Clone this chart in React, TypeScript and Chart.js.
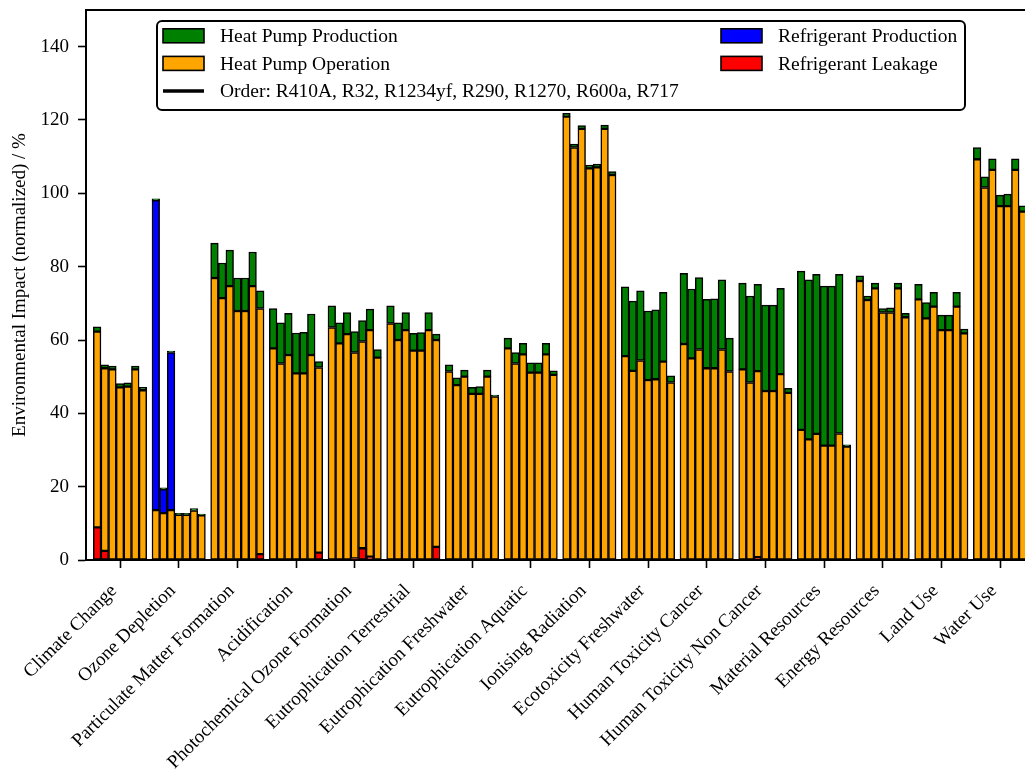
import React, { useEffect, useRef } from "react";
import { Chart, registerables } from "chart.js";

Chart.register(...registerables);

const categories = [
  "Climate Change",
  "Ozone Depletion",
  "Particulate Matter Formation",
  "Acidification",
  "Photochemical Ozone Formation",
  "Eutrophication Terrestrial",
  "Eutrophication Freshwater",
  "Eutrophication Aquatic",
  "Ionising Radiation",
  "Ecotoxicity Freshwater",
  "Human Toxicity Cancer",
  "Human Toxicity Non Cancer",
  "Material Resources",
  "Energy Resources",
  "Land Use",
  "Water Use",
];

const refrigerants = ["R410A", "R32", "R1234yf", "R290", "R1270", "R600a", "R717"];

const yTicks = [0, 20, 40, 60, 80, 100, 120, 140];

// one row per category, one value per refrigerant (order as above)
const refrigerantLeakage = [
  [8.9, 2.5, 0, 0, 0, 0, 0],
  [0, 0, 0, 0, 0, 0, 0],
  [0, 0, 0, 0, 0, 0, 1.6],
  [0, 0, 0, 0, 0, 0, 2.0],
  [0, 0, 0, 0.4, 3.2, 0.9, 0],
  [0, 0, 0, 0, 0, 0, 3.6],
  [0, 0, 0, 0, 0, 0, 0],
  [0, 0, 0, 0, 0, 0, 0],
  [0, 0, 0, 0, 0, 0, 0],
  [0, 0, 0, 0, 0, 0, 0],
  [0, 0, 0, 0, 0, 0, 0],
  [0, 0, 0.8, 0, 0, 0, 0],
  [0, 0, 0, 0, 0, 0, 0],
  [0, 0, 0, 0, 0, 0, 0],
  [0, 0, 0, 0, 0, 0, 0],
  [0, 0, 0, 0, 0, 0, 0],
];

const heatPumpOperation = [
  [53.4, 49.8, 52.0, 47.1, 47.3, 52.0, 46.3],
  [13.6, 12.8, 13.6, 12.3, 12.3, 13.5, 12.2],
  [76.9, 71.4, 74.7, 67.9, 67.9, 74.7, 67.0],
  [57.7, 53.6, 55.9, 50.9, 50.9, 55.9, 50.5],
  [63.4, 59.1, 61.6, 56.2, 56.4, 61.8, 55.2],
  [64.5, 60.0, 62.7, 57.1, 57.1, 62.7, 56.4],
  [51.4, 47.7, 50.0, 45.3, 45.3, 50.0, 44.6],
  [57.7, 53.6, 56.1, 51.1, 51.1, 56.1, 50.5],
  [120.9, 112.5, 117.6, 106.8, 107.1, 117.6, 105.0],
  [55.6, 51.6, 54.4, 49.1, 49.3, 54.1, 48.4],
  [58.9, 55.0, 57.4, 52.3, 52.3, 57.4, 51.4],
  [52.0, 48.4, 50.7, 46.1, 46.1, 50.7, 45.6],
  [35.5, 32.9, 34.4, 31.2, 31.2, 34.5, 30.9],
  [76.1, 70.9, 74.1, 67.5, 67.5, 74.1, 66.2],
  [71.1, 65.9, 69.1, 62.7, 62.7, 69.1, 61.8],
  [109.3, 101.6, 106.4, 96.5, 96.5, 106.4, 95.0],
];

const refrigerantProduction = [
  [0, 0, 0, 0, 0, 0, 0],
  [84.5, 6.5, 43.0, 0, 0, 0, 0],
  [0, 0, 0, 0, 0, 0, 0],
  [0, 0, 0, 0, 0, 0, 0],
  [0, 0, 0, 0, 0, 0, 0],
  [0, 0, 0, 0, 0, 0, 0],
  [0, 0, 0, 0, 0, 0, 0],
  [0, 0, 0, 0, 0, 0, 0],
  [0, 0, 0, 0, 0, 0, 0],
  [0, 0, 0, 0, 0, 0, 0],
  [0, 0, 0, 0, 0, 0, 0],
  [0, 0, 0, 0, 0, 0, 0],
  [0, 0, 0, 0, 0, 0, 0],
  [0, 0, 0, 0, 0, 0, 0],
  [0, 0, 0, 0, 0, 0, 0],
  [0, 0, 0, 0, 0, 0, 0],
];

const heatPumpProduction = [
  [1.3, 0.9, 0.9, 1.0, 1.0, 0.9, 0.8],
  [0.4, 0.4, 0.4, 0.4, 0.4, 0.5, 0.3],
  [9.5, 9.6, 9.8, 9.0, 9.0, 9.3, 4.8],
  [10.9, 11.1, 11.4, 11.0, 11.2, 11.2, 1.6],
  [5.9, 5.6, 5.9, 5.7, 5.7, 5.7, 2.2],
  [4.8, 4.7, 4.8, 4.7, 4.9, 4.8, 1.6],
  [1.8, 2.0, 1.8, 1.8, 2.0, 1.8, 0.4],
  [2.8, 3.0, 3.0, 2.7, 2.7, 3.0, 1.1],
  [0.9, 0.9, 0.9, 0.9, 0.9, 1.0, 0.9],
  [18.9, 19.0, 19.0, 18.8, 18.9, 18.9, 1.8],
  [19.3, 18.9, 19.6, 18.8, 18.9, 19.0, 9.1],
  [23.5, 23.6, 23.7, 23.4, 23.4, 23.4, 1.2],
  [43.3, 43.5, 43.5, 43.5, 43.5, 43.4, 0.5],
  [1.4, 1.1, 1.4, 1.1, 1.3, 1.4, 1.1],
  [4.1, 4.3, 3.9, 4.1, 4.1, 3.9, 1.2],
  [3.2, 2.9, 3.0, 3.0, 3.3, 3.0, 1.6],
];

const FONT = "'Liberation Serif', 'Times New Roman', serif";
const BAR_W = 0.13;
const X_MIN = -0.58;
const X_MAX = 15.426;

const positions: number[] = [];
categories.forEach((_, i) => {
  refrigerants.forEach((_, j) => {
    positions.push(i + (j - 3) * BAR_W);
  });
});

function series(values: number[][]) {
  return positions.map((x, k) => ({
    x,
    y: values[Math.floor(k / refrigerants.length)][k % refrigerants.length],
  }));
}

const overlayPlugin = {
  id: "overlay",
  afterDraw(chart: any) {
    const ctx: CanvasRenderingContext2D = chart.ctx;
    const area = chart.chartArea;
    ctx.save();
    // top spine
    ctx.strokeStyle = "#000";
    ctx.lineWidth = 2;
    ctx.beginPath();
    ctx.moveTo(area.left - 1, area.top);
    ctx.lineTo(area.right, area.top);
    ctx.stroke();

    // legend frame
    const bx = 157,
      by = 21,
      bw = 808,
      bh = 89;
    ctx.fillStyle = "#fff";
    ctx.lineWidth = 2;
    ctx.beginPath();
    (ctx as any).roundRect(bx, by, bw, bh, 5);
    ctx.fill();
    ctx.stroke();

    ctx.font = `19.5px ${FONT}`;
    ctx.textBaseline = "middle";
    ctx.textAlign = "left";

    const patch = (x: number, y: number, color: string, label: string) => {
      ctx.fillStyle = color;
      ctx.fillRect(x, y - 7, 41, 14);
      ctx.strokeStyle = "#000";
      ctx.lineWidth = 1.6;
      ctx.strokeRect(x, y - 7, 41, 14);
      ctx.fillStyle = "#000";
      ctx.fillText(label, x + 57, y + 1);
    };
    const rows = [35.8, 63.4, 91];
    patch(163, rows[0], "#008000", "Heat Pump Production");
    patch(163, rows[1], "#FFA500", "Heat Pump Operation");
    ctx.strokeStyle = "#000";
    ctx.lineWidth = 3.5;
    ctx.beginPath();
    ctx.moveTo(163, rows[2]);
    ctx.lineTo(204, rows[2]);
    ctx.stroke();
    ctx.fillStyle = "#000";
    ctx.fillText("Order: " + refrigerants.join(", "), 220, rows[2] + 1);
    patch(721, rows[0], "#0000FF", "Refrigerant Production");
    patch(721, rows[1], "#FF0000", "Refrigerant Leakage");
    ctx.restore();
  },
};

export default function App() {
  const ref = useRef<HTMLCanvasElement>(null);
  useEffect(() => {
    if (!ref.current) return;
    const common = {
      borderColor: "#000",
      borderWidth: 1.5,
      borderSkipped: false,
      barPercentage: 1,
      categoryPercentage: 1,
      stack: "all",
    };
    const chart = new Chart(ref.current, {
      type: "bar",
      data: {
        datasets: [
          { ...common, label: "Refrigerant Leakage", data: series(refrigerantLeakage), backgroundColor: "#FF0000" },
          { ...common, label: "Heat Pump Operation", data: series(heatPumpOperation), backgroundColor: "#FFA500" },
          { ...common, label: "Refrigerant Production", data: series(refrigerantProduction), backgroundColor: "#0000FF" },
          { ...common, label: "Heat Pump Production", data: series(heatPumpProduction), backgroundColor: "#008000" },
        ] as any,
      },
      options: {
        animation: false,
        responsive: true,
        maintainAspectRatio: false,
        layout: { padding: { top: 10, left: 0, right: 0, bottom: 0 } },
        plugins: {
          legend: { display: false },
          tooltip: { enabled: false },
          title: { display: false },
        },
        scales: {
          x: {
            type: "linear",
            min: X_MIN,
            max: X_MAX,
            offset: false,
            afterBuildTicks: (scale: any) => {
              scale.ticks = categories.map((_, i) => ({ value: i }));
            },
            afterFit: (scale: any) => {
              scale.height = 211;
              scale.paddingLeft = 0;
              scale.paddingRight = 0;
            },
            ticks: {
              autoSkip: false,
              maxRotation: 45,
              minRotation: 45,
              padding: 12,
              labelOffset: -6,
              color: "#000",
              font: { family: FONT, size: 19 },
              callback: (v: any) => categories[Math.round(Number(v))] ?? "",
            },
            grid: {
              display: true,
              offset: false,
              drawOnChartArea: false,
              drawTicks: true,
              tickLength: 8,
              tickWidth: 1.6,
              tickColor: "#000",
            },
            border: { display: true, color: "#000", width: 2 },
          },
          y: {
            type: "linear",
            min: 0,
            max: 150,
            stacked: true,
            afterBuildTicks: (scale: any) => {
              scale.ticks = yTicks.map((v) => ({ value: v }));
            },
            afterFit: (scale: any) => {
              scale.width = 86;
              scale.paddingTop = 0;
              scale.paddingBottom = 0;
            },
            ticks: {
              padding: 9,
              color: "#000",
              font: { family: FONT, size: 19 },
            },
            grid: {
              display: true,
              offset: false,
              drawOnChartArea: false,
              drawTicks: true,
              tickLength: 8,
              tickWidth: 1.6,
              tickColor: "#000",
            },
            border: { display: true, color: "#000", width: 2 },
            title: {
              display: true,
              text: "Environmental Impact (normalized) / %",
              color: "#000",
              font: { family: FONT, size: 19 },
              padding: { top: 9, bottom: 0 },
            },
          },
        },
      } as any,
      plugins: [overlayPlugin],
    });
    return () => chart.destroy();
  }, []);
  return (
    <div style={{ position: "fixed", left: 0, top: 0, width: 1025, height: 771, background: "#fff" }}>
      <canvas ref={ref} />
    </div>
  );
}
